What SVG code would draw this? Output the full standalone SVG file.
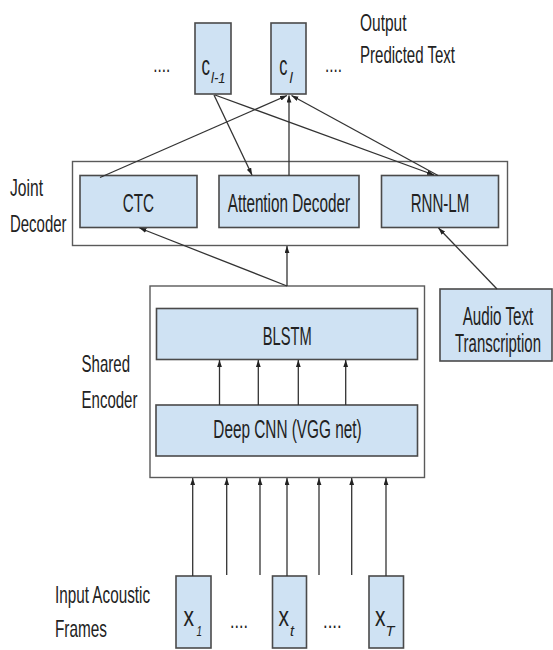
<svg xmlns="http://www.w3.org/2000/svg" width="553" height="650" viewBox="0 0 553 650">
  <style>
    text { font-family: "Liberation Sans", Arial, sans-serif; fill: #222; }
    .lbl { font-size: 23px; }
    .box-txt { font-size: 25px; }
    .sym { font-size: 28px; }
    .sub { font-size: 15px; font-style: italic; }
    .dots { font-size: 22px; }
    .block { fill: #cfe2f3; stroke: #4a4a4a; stroke-width: 1.6; }
    .frame { fill: #ffffff; stroke: #5a5a5a; stroke-width: 1.4; }
    .conn line { stroke: #333; stroke-width: 1.3; fill: none; }
    .arr { marker-end: url(#head); }
  </style>
  <defs>
    <marker id="head" markerUnits="userSpaceOnUse" markerWidth="8" markerHeight="6" refX="7" refY="2.4" orient="auto">
      <path d="M0,0 L7,2.4 L0,4.8 z" fill="#222"/>
    </marker>
  </defs>

  <rect width="553" height="650" fill="#ffffff"/>

  <!-- all lettering is set in a horizontally condensed face: matrix(0.66 0 0 1 x y) -->

  <!-- side labels -->
  <g id="label-output">
    <text class="lbl" transform="matrix(0.66 0 0 1 360 30.5)" textLength="70.5" lengthAdjust="spacingAndGlyphs">Output</text>
    <text class="lbl" transform="matrix(0.66 0 0 1 360 63.3)" textLength="144" lengthAdjust="spacingAndGlyphs">Predicted Text</text>
  </g>
  <g id="label-joint">
    <text class="lbl" transform="matrix(0.66 0 0 1 10 195.5)" textLength="50" lengthAdjust="spacingAndGlyphs">Joint</text>
    <text class="lbl" transform="matrix(0.66 0 0 1 10 231.5)" textLength="85.6" lengthAdjust="spacingAndGlyphs">Decoder</text>
  </g>
  <g id="label-shared">
    <text class="lbl" transform="matrix(0.66 0 0 1 81.5 371.5)" textLength="73.5" lengthAdjust="spacingAndGlyphs">Shared</text>
    <text class="lbl" transform="matrix(0.66 0 0 1 81.5 407.5)" textLength="84.8" lengthAdjust="spacingAndGlyphs">Encoder</text>
  </g>
  <g id="label-input">
    <text class="lbl" transform="matrix(0.66 0 0 1 55 603.3)" textLength="144" lengthAdjust="spacingAndGlyphs">Input Acoustic</text>
    <text class="lbl" transform="matrix(0.66 0 0 1 55 637)" textLength="78.8" lengthAdjust="spacingAndGlyphs">Frames</text>
  </g>

  <!-- output symbols -->
  <text class="dots" transform="matrix(0.66 0 0 1 153.3 72)" textLength="25.8" lengthAdjust="spacingAndGlyphs">....</text>
  <text class="dots" transform="matrix(0.66 0 0 1 325 72)" textLength="25.8" lengthAdjust="spacingAndGlyphs">....</text>
  <g id="c-prev">
    <rect class="block" x="195" y="23" width="36" height="71"/>
    <text class="sym" transform="matrix(0.66 0 0 1 201.5 75)" textLength="12.9" lengthAdjust="spacingAndGlyphs">c</text>
    <text class="sub" transform="matrix(0.66 0 0 1 211 83)" textLength="22" lengthAdjust="spacingAndGlyphs">l-1</text>
  </g>
  <g id="c-cur">
    <rect class="block" x="271" y="23" width="35" height="71"/>
    <text class="sym" transform="matrix(0.66 0 0 1 279.3 75)" textLength="12.4" lengthAdjust="spacingAndGlyphs">c</text>
    <text class="sub" transform="matrix(0.66 0 0 1 289.5 83)" textLength="4.8" lengthAdjust="spacingAndGlyphs">l</text>
  </g>

  <!-- joint decoder -->
  <g id="joint-decoder">
    <rect class="frame" x="72.5" y="161.5" width="435" height="84"/>
  </g>
  <g id="ctc">
    <rect class="block" x="80" y="175.5" width="117" height="52"/>
    <text class="box-txt" transform="matrix(0.66 0 0 1 122.7 212)" textLength="47.4" lengthAdjust="spacingAndGlyphs">CTC</text>
  </g>
  <g id="attention-decoder">
    <rect class="block" x="219" y="175.5" width="140" height="52"/>
    <text class="box-txt" transform="matrix(0.66 0 0 1 227.7 212)" textLength="185.3" lengthAdjust="spacingAndGlyphs">Attention Decoder</text>
  </g>
  <g id="rnn-lm">
    <rect class="block" x="381.5" y="175.5" width="117" height="52"/>
    <text class="box-txt" transform="matrix(0.66 0 0 1 410.7 212.3)" textLength="88.8" lengthAdjust="spacingAndGlyphs">RNN-LM</text>
  </g>

  <!-- shared encoder -->
  <g id="shared-encoder">
    <rect class="frame" x="150" y="286" width="274.5" height="191.5"/>
  </g>
  <g id="blstm">
    <rect class="block" x="156.5" y="308.5" width="261" height="51"/>
    <text class="box-txt" transform="matrix(0.66 0 0 1 262.7 345)" textLength="74.2" lengthAdjust="spacingAndGlyphs">BLSTM</text>
  </g>
  <g id="deep-cnn">
    <rect class="block" x="156" y="405" width="261.5" height="51"/>
    <text class="box-txt" transform="matrix(0.66 0 0 1 213.3 437.5)" textLength="224.8" lengthAdjust="spacingAndGlyphs">Deep CNN (VGG net)</text>
  </g>

  <!-- language-model training text -->
  <g id="audio-text">
    <rect class="block" x="440" y="289" width="112" height="72"/>
    <text class="box-txt" transform="matrix(0.66 0 0 1 462.7 325)" textLength="107" lengthAdjust="spacingAndGlyphs">Audio Text</text>
    <text class="box-txt" transform="matrix(0.66 0 0 1 455 351.7)" textLength="130.3" lengthAdjust="spacingAndGlyphs">Transcription</text>
  </g>

  <!-- input frames -->
  <g id="x-1">
    <rect class="block" x="176" y="576" width="35" height="72"/>
    <text class="sym" transform="matrix(0.66 0 0 1 183.5 626)" textLength="15.9" lengthAdjust="spacingAndGlyphs">x</text>
    <text class="sub" transform="matrix(0.66 0 0 1 196.5 635.5)" textLength="8.3" lengthAdjust="spacingAndGlyphs">1</text>
  </g>
  <g id="x-t">
    <rect class="block" x="272.5" y="576" width="34" height="72"/>
    <text class="sym" transform="matrix(0.66 0 0 1 278.5 626)" textLength="15.9" lengthAdjust="spacingAndGlyphs">x</text>
    <text class="sub" transform="matrix(0.66 0 0 1 290 635.5)" textLength="6.1" lengthAdjust="spacingAndGlyphs">t</text>
  </g>
  <g id="x-T">
    <rect class="block" x="369" y="576" width="34.5" height="72"/>
    <text class="sym" transform="matrix(0.66 0 0 1 375 626)" textLength="15.9" lengthAdjust="spacingAndGlyphs">x</text>
    <text class="sub" transform="matrix(0.66 0 0 1 385.5 635.5)" textLength="13.6" lengthAdjust="spacingAndGlyphs">T</text>
  </g>
  <text class="dots" transform="matrix(0.66 0 0 1 230 628)" textLength="27.3" lengthAdjust="spacingAndGlyphs">....</text>
  <text class="dots" transform="matrix(0.66 0 0 1 323 628)" textLength="28.3" lengthAdjust="spacingAndGlyphs">....</text>

  <!-- connectors -->
  <g id="connectors" class="conn">
    <!-- decoders to output symbols -->
    <line class="arr" x1="100" y1="177.5" x2="287" y2="95.5"/>
    <line class="arr" x1="289" y1="175.5" x2="289" y2="95.5"/>
    <line class="arr" x1="438" y1="175.5" x2="291.5" y2="95.5"/>
    <line class="arr" x1="214" y1="95" x2="252" y2="175"/>
    <line class="arr" x1="215" y1="95" x2="434" y2="175"/>
    <!-- encoder to decoders -->
    <line class="arr" x1="287" y1="286" x2="139.5" y2="228"/>
    <line class="arr" x1="287" y1="286" x2="287" y2="246"/>
    <line class="arr" x1="497" y1="289" x2="438.5" y2="228"/>
    <!-- CNN to BLSTM -->
    <line class="arr" x1="219.5" y1="405" x2="219.5" y2="360"/>
    <line class="arr" x1="258.3" y1="405" x2="258.3" y2="360"/>
    <line class="arr" x1="298.3" y1="405" x2="298.3" y2="360"/>
    <line class="arr" x1="345.7" y1="405" x2="345.7" y2="360"/>
    <!-- frames to encoder -->
    <line class="arr" x1="192.7" y1="576" x2="192.7" y2="478"/>
    <line class="arr" x1="226.7" y1="575" x2="226.7" y2="478"/>
    <line class="arr" x1="260" y1="575" x2="260" y2="478"/>
    <line class="arr" x1="287" y1="576" x2="287" y2="478"/>
    <line class="arr" x1="319" y1="575" x2="319" y2="478"/>
    <line class="arr" x1="351.7" y1="575" x2="351.7" y2="478"/>
    <line class="arr" x1="386" y1="576" x2="386" y2="478"/>
  </g>
</svg>
